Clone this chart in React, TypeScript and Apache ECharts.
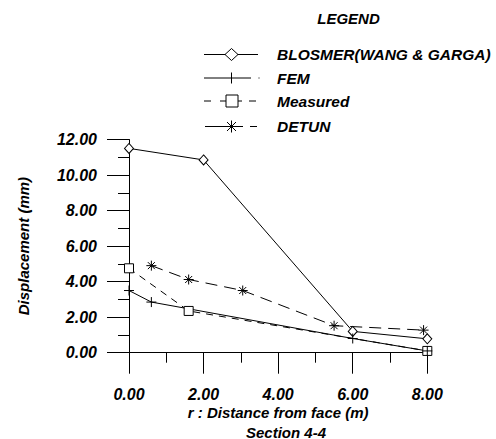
import { useEffect, useRef } from "react";
import * as echarts from "echarts";

// Displacement vs. distance from the tunnel face, Section 4-4
const blosmerX = [0, 2, 6, 8];
const blosmerY = [11.5, 10.85, 1.2, 0.78];
const femX = [0, 0.6, 6, 8];
const femY = [3.5, 2.85, 0.8, 0.1];
const measuredX = [0, 1.6, 8];
const measuredY = [4.75, 2.35, 0.1];
const detunX = [0.6, 1.6, 3.05, 5.5, 7.9];
const detunY = [4.9, 4.12, 3.5, 1.52, 1.27];
const seriesNames = ["BLOSMER(WANG & GARGA)", "FEM", "Measured", "DETUN"];

const FONT = "'Liberation Sans', Arial, Helvetica, sans-serif";
const txt = { fontFamily: FONT, fontWeight: "bold" as const, fontStyle: "italic" as const, fontSize: 15, color: "#000" };
const tickTxt = { ...txt, fontSize: 16 };
const legendTxt = { ...txt, fontSize: 15.5 };

const PLUS = "path://M5,0L5,10M0,5L10,5";
const STAR = "path://M5,0L5,10M0,5L10,5M1.5,1.5L8.5,8.5M1.5,8.5L8.5,1.5";

const pairs = (xs: number[], ys: number[]) => xs.map((x, i) => [x, ys[i]]);

export default function App() {
  const ref = useRef<HTMLDivElement>(null);

  useEffect(() => {
    if (!ref.current) return;
    const chart = echarts.init(ref.current, null, { renderer: "svg" });

    const black = { stroke: "#000", lineWidth: 1 };
    const seg = (x1: number, y1: number, x2: number, y2: number) => ({
      type: "line",
      shape: { x1, y1, x2, y2 },
      style: black,
      silent: true,
    });
    const rowY = [54.5, 78, 101, 126.5];
    const symX = 231.5;
    const legendGraphics: any[] = [
      { type: "text", x: 348.5, y: 18, style: { text: "LEGEND", ...txt, fill: "#000", align: "center", verticalAlign: "middle" } },
      // BLOSMER sample: solid line with diamond
      seg(204, rowY[0], 258, rowY[0]),
      {
        type: "polygon",
        shape: { points: [[symX - 6.5, rowY[0]], [symX, rowY[0] - 6], [symX + 6.5, rowY[0]], [symX, rowY[0] + 6]] },
        style: { fill: "#fff", stroke: "#000", lineWidth: 1 },
      },
      // FEM sample: solid line with plus
      seg(204, rowY[1], 251, rowY[1]),
      seg(symX, rowY[1] - 5.5, symX, rowY[1] + 5.5),
      seg(258.5, rowY[1], 259.5, rowY[1]),
      // Measured sample: dashed line with square
      seg(204, rowY[2], 211, rowY[2]),
      seg(220, rowY[2], 226, rowY[2]),
      seg(238, rowY[2], 242, rowY[2]),
      seg(249, rowY[2], 256, rowY[2]),
      { type: "rect", shape: { x: 226, y: rowY[2] - 6, width: 12, height: 12 }, style: { fill: "#fff", stroke: "#000", lineWidth: 1 } },
      // DETUN sample: long dash with asterisk
      seg(205, rowY[3], 243, rowY[3]),
      seg(250, rowY[3], 257, rowY[3]),
      seg(symX, rowY[3] - 6, symX, rowY[3] + 6),
      seg(symX - 4.5, rowY[3] - 4.5, symX + 4.5, rowY[3] + 4.5),
      seg(symX - 4.5, rowY[3] + 4.5, symX + 4.5, rowY[3] - 4.5),
      { type: "text", x: 286, y: 432, style: { text: "Section 4-4", ...txt, fill: "#000", align: "center", verticalAlign: "middle" } },
    ];
    seriesNames.forEach((n, i) => {
      legendGraphics.push({
        type: "text",
        x: 277,
        y: rowY[i],
        style: { text: n, ...legendTxt, fill: "#000", align: "left", verticalAlign: "middle" },
      });
    });

    const markerStyle = { color: "#fff", borderColor: "#000", borderWidth: 1 };

    chart.setOption({
      animation: false,
      backgroundColor: "#fff",
      grid: { left: 129, right: 68.7, top: 139.5, bottom: 86.3 },
      xAxis: {
        type: "value",
        min: 0,
        max: 8,
        interval: 2,
        name: "r : Distance from face (m)",
        nameLocation: "middle",
        nameGap: 52,
        nameTextStyle: { ...txt },
        axisLine: { lineStyle: { color: "#000", width: 1 } },
        axisTick: { length: 21, lineStyle: { color: "#000" } },
        minorTick: { show: true, splitNumber: 2, length: 10, lineStyle: { color: "#000" } },
        splitLine: { show: false },
        axisLabel: { ...tickTxt, margin: 34, formatter: (v: number) => v.toFixed(2) },
      },
      yAxis: {
        type: "value",
        min: 0,
        max: 12,
        interval: 2,
        name: "Displacement (mm)",
        nameLocation: "middle",
        nameGap: 98,
        nameTextStyle: { ...txt },
        axisLine: { show: true, lineStyle: { color: "#000", width: 1 } },
        axisTick: { show: true, length: 22, lineStyle: { color: "#000" } },
        minorTick: { show: true, splitNumber: 2, length: 11, lineStyle: { color: "#000" } },
        splitLine: { show: false },
        axisLabel: { ...tickTxt, margin: 32, formatter: (v: number) => v.toFixed(2) },
      },
      series: [
        {
          name: seriesNames[0],
          type: "line",
          data: pairs(blosmerX, blosmerY),
          symbol: "diamond",
          symbolSize: [9, 10],
          lineStyle: { color: "#000", width: 1, type: "solid" },
          itemStyle: markerStyle,
        },
        {
          name: seriesNames[2],
          type: "line",
          data: pairs(measuredX, measuredY),
          symbol: "rect",
          symbolSize: 9,
          lineStyle: { color: "#000", width: 1, type: [7, 6] },
          itemStyle: markerStyle,
        },
        {
          name: seriesNames[3],
          type: "line",
          data: pairs(detunX, detunY),
          symbol: STAR,
          symbolSize: 10,
          lineStyle: { color: "#000", width: 1, type: [12, 7] },
          itemStyle: markerStyle,
        },
        {
          name: seriesNames[1],
          type: "line",
          data: pairs(femX, femY),
          symbol: PLUS,
          symbolSize: 10,
          lineStyle: { color: "#000", width: 1, type: "solid" },
          itemStyle: markerStyle,
        },
      ],
      graphic: legendGraphics,
    });

    return () => chart.dispose();
  }, []);

  return <div ref={ref} style={{ position: "absolute", left: 0, top: 0, width: 496, height: 439 }} />;
}
